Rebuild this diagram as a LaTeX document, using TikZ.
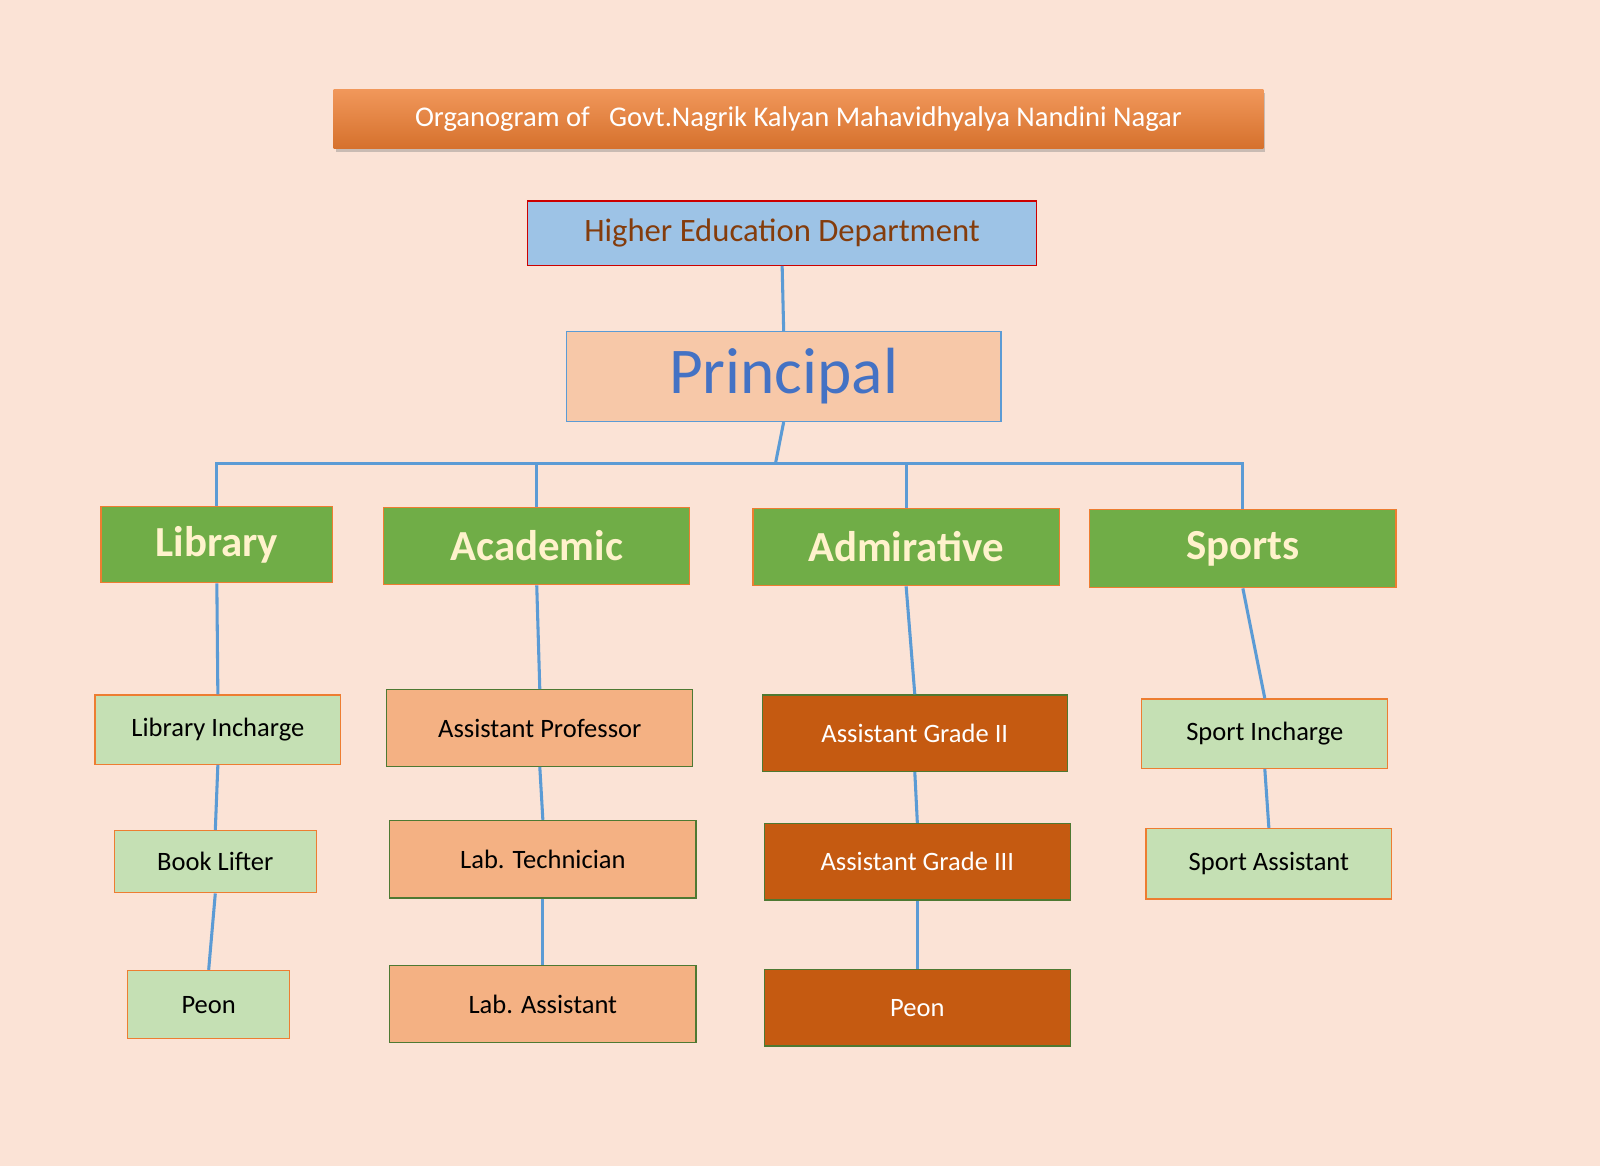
\documentclass[tikz,border=0pt]{standalone}
\usepackage{fontspec}
\setmainfont{Carlito}
\usetikzlibrary{shadows}
\definecolor{bg}{HTML}{FBE3D6}
\definecolor{ln}{HTML}{5B9BD5}
\definecolor{grn}{HTML}{70AD47}
\definecolor{lgrn}{HTML}{C5E0B4}
\definecolor{peach}{HTML}{F4B183}
\definecolor{rust}{HTML}{C55A11}
\definecolor{org}{HTML}{ED7D31}
\definecolor{brn}{HTML}{843C0C}
\definecolor{blu}{HTML}{4472C4}
\definecolor{ylw}{HTML}{FFF2CC}
\tikzset{
 x=1pt,y=-1pt,
 box/.style={draw,line width=1.2pt,inner sep=0pt,align=center},
 cat/.style={box,fill=grn,draw=org,text=ylw,font=\fontsize{42}{44}\selectfont\bfseries},
 lg/.style={box,fill=lgrn,draw=org,font=\fontsize{26}{28}\selectfont},
 pc/.style={box,fill=peach,draw=grn!70!black,font=\fontsize{26}{28}\selectfont},
 rs/.style={box,fill=rust,draw=grn!70!black,text=white,font=\fontsize{26}{28}\selectfont},
 cn/.style={draw=ln,line width=3pt}
}
\newcommand{\bx}[7]{\node[#1,minimum width={#5-#3},minimum height={#6-#4}] (#2) at ({(#3+#5)/2},{(#4+#6)/2}) {#7};}
\begin{document}
\begin{tikzpicture}
\fill[bg] (0,0) rectangle (1568,1143);
\useasboundingbox (0,0) rectangle (1568,1143);
\bx{box,draw=none,top color=org!80!white,bottom color=org!90!black,text=white,font=\fontsize{28}{30}\selectfont,drop shadow={shadow xshift=2pt,shadow yshift=-3pt,opacity=.4}}{title}{327}{88}{1238}{146}{Organogram of\ \ \ Govt.Nagrik Kalyan Mahavidhyalya Nandini Nagar}
\bx{box,fill=ln!60!white,draw=red!80!black,text=brn,font=\fontsize{32}{34}\selectfont}{hed}{517}{197}{1016}{260}{Higher Education Department}
\bx{box,fill=peach!70!white,draw=ln,text=blu,font=\fontsize{64}{66}\selectfont}{pr}{555}{325}{981}{413}{Principal}
\bx{cat}{lib}{99}{496}{326}{571}{Library}
\bx{cat}{aca}{376}{497}{676}{573}{Academic}
\bx{cat}{adm}{738}{498}{1038}{574}{Admirative}
\bx{cat}{spo}{1068}{499}{1368}{576}{Sports}
\bx{lg}{li}{93}{681}{334}{749}{Library Incharge}
\bx{lg}{bl}{112}{814}{310}{875}{Book Lifter}
\bx{lg}{pe1}{125}{951}{284}{1018}{Peon}
\bx{pc}{ap}{379}{676}{679}{751}{Assistant Professor}
\bx{pc}{lt}{382}{804}{682}{880}{Lab. Technician}
\bx{pc}{la}{382}{946}{682}{1022}{Lab. Assistant}
\bx{rs}{ag2}{747}{681}{1046}{756}{Assistant Grade II}
\bx{rs}{ag3}{749}{807}{1049}{882}{Assistant Grade III}
\bx{rs}{pe2}{749}{950}{1049}{1025}{Peon}
\bx{lg}{si}{1119}{685}{1360}{753}{Sport Incharge}
\bx{lg}{sa}{1123}{812}{1364}{881}{Sport Assistant}
\coordinate (bus) at (760,454);
\draw[cn] (hed.south) -- (pr.north);
\draw[cn] (pr.south) -- (bus);
\draw[cn] (lib.north) -- (lib.north |- bus) -- (spo.north |- bus) -- (spo.north);
\draw[cn] (aca.north) -- (aca.north |- bus);
\draw[cn] (adm.north) -- (adm.north |- bus);
\draw[cn] (lib.south) -- (li.north);
\draw[cn] (li.south) -- (bl.north);
\draw[cn] (bl.south) -- (pe1.north);
\draw[cn] (aca.south) -- (ap.north);
\draw[cn] (ap.south) -- (lt.north);
\draw[cn] (lt.south) -- (la.north);
\draw[cn] (adm.south) -- (ag2.north);
\draw[cn] (ag2.south) -- (ag3.north);
\draw[cn] (ag3.south) -- (pe2.north);
\draw[cn] (spo.south) -- (si.north);
\draw[cn] (si.south) -- (sa.north);
\end{tikzpicture}
\end{document}
